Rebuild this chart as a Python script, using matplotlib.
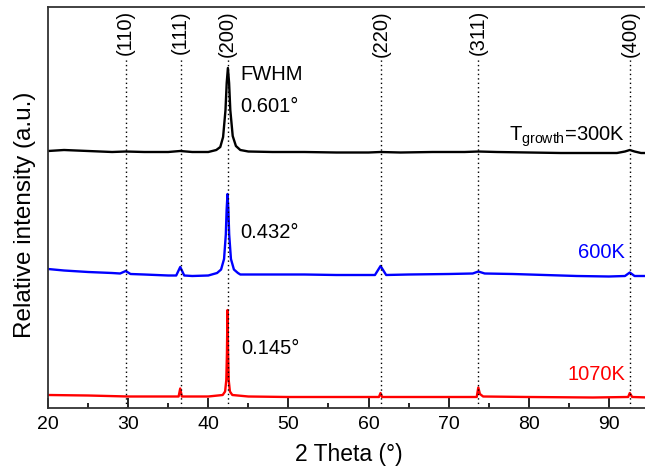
import matplotlib
matplotlib.use("Agg")
import matplotlib.pyplot as plt
from matplotlib.ticker import MultipleLocator

plt.rcParams['font.family'] = ['Liberation Sans', 'DejaVu Sans']
plt.rcParams['mathtext.fontset'] = 'custom'
plt.rcParams['mathtext.rm'] = 'Liberation Sans'

# Reflection positions (2 theta, degrees) and Miller indices
hkl_pos = [29.7, 36.55, 42.42, 61.55, 73.65, 92.6]
hkl_labels = ["(110)", "(111)", "(200)", "(220)", "(311)", "(400)"]

# Stacked XRD patterns (intensity includes vertical offset, a.u.)
x_300 = [20, 22, 25, 28, 29.7, 32, 35, 36.5, 38, 40, 41.0, 41.5, 41.85, 42.15, 42.3,
         42.45, 42.6, 42.75, 43.05, 43.45, 44, 45, 48, 52, 56, 60, 61.5, 64, 68, 72,
         73.7, 76, 80, 84, 88, 91, 92.0, 92.6, 93.2, 94, 95]
y_300 = [257, 258, 257, 256, 256.5, 256, 256, 257, 256, 256, 258, 261, 271, 298, 325,
         340, 325, 298, 272, 262, 258, 256.5, 256, 256, 255.5, 255.5, 256, 255.5, 256, 256,
         256.5, 256, 255.5, 255, 255, 255, 256.5, 258, 256.5, 255, 255]

x_600 = [20, 22, 25, 28, 29.0, 29.7, 30.3, 32, 35, 36.0, 36.5, 37.0, 38, 40, 41.1,
         41.6, 41.97, 42.19, 42.29, 42.4, 42.51, 42.61, 42.83, 43.2, 43.7, 44, 48, 52,
         56, 59.3, 60.8, 61.5, 62.2, 65, 70, 73.0, 73.7, 74.5, 78, 82, 86, 90, 92.0,
         92.6, 93.2, 95]
y_600 = [139, 137.5, 136, 135, 134.5, 137, 134, 133.5, 132.5, 132.5, 141, 132.5, 132,
         132.5, 135, 138.5, 149, 173.5, 198, 214, 198, 173.5, 149, 138.5, 135, 133.5,
         133.5, 133.5, 133, 133, 133, 142, 133, 133.5, 134, 134.5, 136.5, 134.5, 134, 133,
         132, 131.5, 132, 135.5, 132, 132]

x_1070 = [20, 25, 30, 36.3, 36.5, 36.7, 40, 41.8, 42.1, 42.25, 42.33, 42.4, 42.47,
          42.55, 42.7, 43.0, 45, 50, 55, 61.3, 61.5, 61.7, 68, 73.5, 73.7, 73.9, 74.3,
          80, 88, 92.4, 92.6, 92.9, 95]
y_1070 = [13, 12.5, 11.5, 11.5, 19.5, 11.5, 11.5, 13, 16.5, 28, 55, 98, 55, 28, 16.5,
          13, 11.5, 11, 11, 11, 15, 11, 11, 11, 20.5, 14, 11.5, 11, 10.5, 11, 15, 11, 10.5]

fwhm_values = ["0.601°", "0.432°", "0.145°"]

fig = plt.figure(figsize=(6.45, 4.75), dpi=100)
ax = fig.add_axes([48 / 645, 67 / 475, 601 / 645, 401 / 475])

ax.plot(x_300, y_300, color="black", lw=1.7)
ax.plot(x_600, y_600, color="#0000ff", lw=1.7)
ax.plot(x_1070, y_1070, color="#ff0000", lw=1.7)

# Reference reflection markers
for pos, lab in zip(hkl_pos, hkl_labels):
    ax.vlines(pos, 0, 350, colors="black", linestyles=(0, (1, 2.2)), lw=1.0)
    ax.text(pos, 398, lab, rotation=90, ha="center", va="top", fontsize=14.5)

ax.text(44.0, 334, "FWHM", fontsize=14.5, va="center", ha="left")
ax.text(44.0, 302, fwhm_values[0], fontsize=14.5, va="center", ha="left")
ax.text(43.95, 175, fwhm_values[1], fontsize=14.5, va="center", ha="left")
ax.text(44.15, 60, fwhm_values[2], fontsize=14.5, va="center", ha="left")

ax.text(92.0, 271, r"$\mathregular{T_{growth}}$=300K", fontsize=14.5, ha="right", va="center")
ax.text(92.0, 155, "600K", fontsize=14.5, ha="right", va="center", color="#0000ff")
ax.text(92.0, 33, "1070K", fontsize=14.5, ha="right", va="center", color="#ff0000")

ax.set_xlim(20, 95)
ax.set_ylim(0, 401)
ax.xaxis.set_major_locator(MultipleLocator(10))
ax.xaxis.set_minor_locator(MultipleLocator(5))
ax.tick_params(axis="x", which="major", direction="in", length=7, width=1.2,
               labelsize=14, pad=6, top=False)
ax.tick_params(axis="x", which="minor", direction="in", length=3.5, width=1.2, top=False)
ax.set_yticks([])
for sp in ax.spines.values():
    sp.set_linewidth(1.3)
    sp.set_color("#333333")

ax.set_xlabel("2 Theta (°)", fontsize=16.5)
ax.xaxis.set_label_coords(0.5, -0.088)
ax.set_ylabel("Relative intensity (a.u.)", fontsize=17.5)
ax.yaxis.set_label_coords(-0.02, 0.481)

fig.savefig("out.png", dpi=100)
